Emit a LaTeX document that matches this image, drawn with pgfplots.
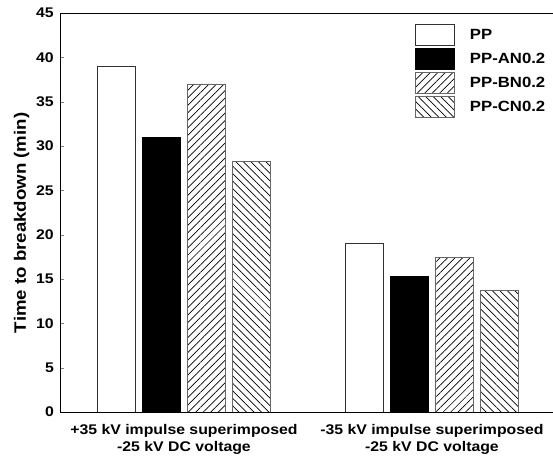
\documentclass[border=0pt]{standalone}
\usepackage{pgfplots}
\pgfplotsset{compat=1.18}
\usepackage{fontspec}
\setmainfont{Liberation Sans}[FakeStretch=1.13]
\usetikzlibrary{patterns.meta}
\begin{document}
\begin{tikzpicture}
\begin{axis}[
  scale only axis, width=494pt, height=399pt,
  ybar, bar width=38pt,
  xmin=-0.5, xmax=1.492, ymin=0, ymax=45,
  xtick={0,1},
  xticklabels={{+35 kV impulse superimposed\\-25 kV DC voltage},{-35 kV impulse superimposed\\-25 kV DC voltage}},
  xticklabel style={align=center, inner sep=0pt, yshift=-12pt, font=\bfseries\fontsize{14}{17}\selectfont},
  x tick style={draw=none},
  ytick={0,5,...,45},
  tick align=inside, major tick length=4pt,
  ytick pos=left,
  yticklabel style={inner sep=0pt, xshift=-6pt, font=\bfseries\fontsize{14}{17}\selectfont},
  /pgf/number format/assume math mode=true,
  ylabel={Time to breakdown (min)},
  ylabel style={at={(rel axis cs:0,0.474)}, anchor=base, yshift=34pt, font=\bfseries\fontsize{16.5}{19}\selectfont},
  axis line style={line width=0.9pt},
  legend cell align=left,
  legend style={draw=none, fill=none, at={(rel axis cs:0.7186,0.9717)}, anchor=north west,
    inner sep=0pt, row sep=2pt, column sep=15pt,
    font=\bfseries\fontsize{14.8}{17}\selectfont,
    nodes={inner sep=0pt}},
  legend image code/.code={\draw[#1, line width=0.8pt] (0pt,-10.5pt) rectangle (39pt,10.5pt);},
]
\addplot[bar shift=-67.8pt, fill=white, draw=black!80, line width=0.8pt] coordinates {(0,39) (1,19)};
\addplot[bar shift=-22.4pt, fill=black, draw=black, line width=0.8pt] coordinates {(0,31) (1,15.3)};
\addplot[bar shift=22.4pt, draw=black!60, line width=0.8pt, pattern={Lines[angle=45,distance=5.3pt,line width=0.7pt]}] coordinates {(0,37) (1,17.4)};
\addplot[bar shift=67.9pt, draw=black!60, line width=0.8pt, pattern={Lines[angle=-45,distance=5.3pt,line width=0.7pt]}] coordinates {(0,28.3) (1,13.7)};
\legend{PP,PP-AN0.2,PP-BN0.2,PP-CN0.2}
\coordinate (bl) at (rel axis cs:0,0);
\coordinate (tr) at (rel axis cs:1,1);
\end{axis}
\pgfresetboundingbox
\path ([shift={(-60pt,-46pt)}]bl) rectangle ([shift={(-1pt,13pt)}]tr);
\end{tikzpicture}
\end{document}
